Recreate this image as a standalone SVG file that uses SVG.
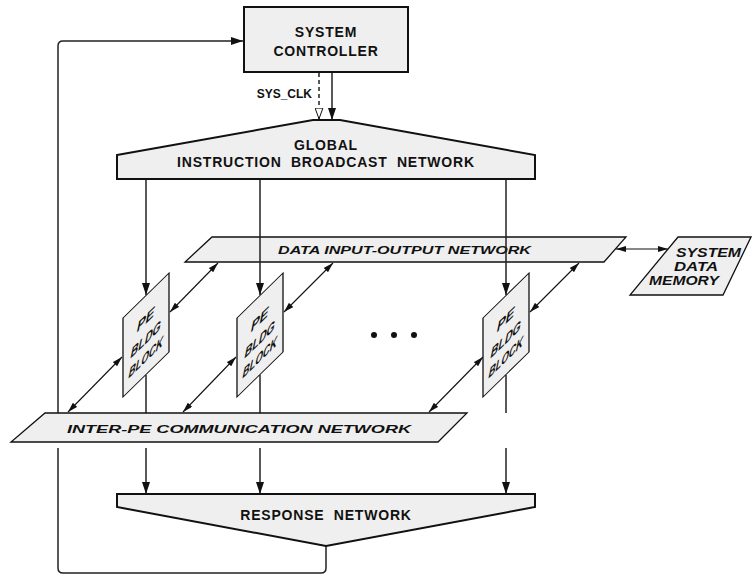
<svg xmlns="http://www.w3.org/2000/svg" width="752" height="577" viewBox="0 0 752 577">
<style>
.box{fill:#efefef;stroke:#111;stroke-width:2;stroke-linejoin:miter}
.thin{fill:#efefef;stroke:#111;stroke-width:1.3}
.t{font-family:"Liberation Sans",Arial,sans-serif;font-weight:bold;fill:#111}
.big{font-size:14px;letter-spacing:0.8px;white-space:pre}
.it{font-style:italic}
.ln{fill:none;stroke:#222;stroke-width:1.5}
.dg{fill:none;stroke:#111;stroke-width:1.1}
.pt{font-size:13px}
</style>
<defs>
<marker id="a" viewBox="0 0 12 8" refX="12" refY="4" markerWidth="12" markerHeight="8" markerUnits="userSpaceOnUse" orient="auto-start-reverse">
<path d="M0,0 L12,4 L0,8 z" fill="#111"/>
</marker>
<marker id="d" viewBox="0 0 10 6" refX="10" refY="3" markerWidth="10" markerHeight="6" markerUnits="userSpaceOnUse" orient="auto-start-reverse">
<path d="M0,0 L10,3 L0,6 z" fill="#111"/>
</marker>
<marker id="h" viewBox="0 0 12 9" refX="11.5" refY="4.5" markerWidth="12" markerHeight="9" markerUnits="userSpaceOnUse" orient="auto">
<path d="M0.6,0.6 L11.4,4.5 L0.6,8.4 z" fill="#fff" stroke="#111" stroke-width="1"/>
</marker>
</defs>

<g id="connectors">
<path class="ln" d="M58,413 V46 Q58,41 63,41 H243" marker-end="url(#a)"/>
<path class="ln" d="M326,546 V568 Q326,573 321,573 H63 Q58,573 58,568 V448"/>
<path class="ln" d="M319,73 V119" stroke-dasharray="4,3" marker-end="url(#h)"/>
<path class="ln" d="M332,73 V120" marker-end="url(#a)"/>
<path class="ln" d="M146,180 V295" marker-end="url(#a)"/>
<path class="ln" d="M146,375 V413"/>
<path class="ln" d="M146,448 V494" marker-end="url(#a)"/>
<path class="ln" d="M260,375 V413"/>
<path class="ln" d="M260,448 V494" marker-end="url(#a)"/>
<path class="ln" d="M506,375 V413"/>
<path class="ln" d="M506,448 V494" marker-end="url(#a)"/>
<path class="dg" d="M218,263 L170,312" marker-start="url(#d)" marker-end="url(#d)"/>
<path class="dg" d="M333,263 L284,312" marker-start="url(#d)" marker-end="url(#d)"/>
<path class="dg" d="M579,263 L530,312" marker-start="url(#d)" marker-end="url(#d)"/>
<path class="dg" d="M122,357 L68,412" marker-start="url(#d)" marker-end="url(#d)"/>
<path class="dg" d="M236,357 L183,412" marker-start="url(#d)" marker-end="url(#d)"/>
<path class="dg" d="M483,357 L429,412" marker-start="url(#d)" marker-end="url(#d)"/>
<path class="dg" d="M616,249 H668" marker-start="url(#d)" marker-end="url(#d)"/>
</g>

<g id="data-io-network">
<polygon class="thin" points="212,237 626,237 604,262 185,262"/>
<text class="t it" x="404.5" y="254" font-size="10.5" text-anchor="middle" textLength="253" lengthAdjust="spacingAndGlyphs">DATA INPUT-OUTPUT NETWORK</text>
</g>

<g id="over-lines">
<path class="ln" d="M260,180 V295" marker-end="url(#a)"/>
<path class="ln" d="M506,180 V295" marker-end="url(#a)"/>
</g>

<g id="system-controller">
<rect class="box" x="244" y="7" width="164" height="65"/>
<text class="t big" x="326" y="37" text-anchor="middle">SYSTEM</text>
<text class="t big" x="326" y="56" text-anchor="middle">CONTROLLER</text>
</g>

<g id="sys-clk-label">
<text class="t" x="312" y="98" font-size="12" text-anchor="end">SYS_CLK</text>
</g>

<g id="global-network">
<polygon class="box" points="117,155 313,120 340,120 535,155 535,179 117,179"/>
<text class="t big" x="326" y="150" text-anchor="middle">GLOBAL</text>
<text class="t big" x="326" y="167" text-anchor="middle" xml:space="preserve">INSTRUCTION  BROADCAST  NETWORK</text>
</g>

<g id="system-data-memory">
<polygon class="thin" points="678,237 751,237 723,295 630,295"/>
<text class="t it" x="708.5" y="257" font-size="12" text-anchor="middle" textLength="65" lengthAdjust="spacingAndGlyphs">SYSTEM</text>
<text class="t it" x="696" y="271" font-size="12" text-anchor="middle" textLength="44" lengthAdjust="spacingAndGlyphs">DATA</text>
<text class="t it" x="684" y="285" font-size="12" text-anchor="middle" textLength="70" lengthAdjust="spacingAndGlyphs">MEMORY</text>
</g>

<g id="pe1" transform="translate(123,318) skewY(-44.4)">
<rect class="thin" x="0" y="0" width="46" height="79"/>
<g transform="skewX(-15)">
<text class="t pt" x="29.3" y="28" text-anchor="middle">PE</text>
<text class="t pt" x="34.7" y="48" text-anchor="middle" textLength="30" lengthAdjust="spacingAndGlyphs">BLDG</text>
<text class="t pt" x="39.5" y="66" text-anchor="middle" textLength="34" lengthAdjust="spacingAndGlyphs">BLOCK</text>
</g>
</g>
<g id="pe2" transform="translate(237,318) skewY(-44.4)">
<rect class="thin" x="0" y="0" width="46" height="79"/>
<g transform="skewX(-15)">
<text class="t pt" x="29.3" y="28" text-anchor="middle">PE</text>
<text class="t pt" x="34.7" y="48" text-anchor="middle" textLength="30" lengthAdjust="spacingAndGlyphs">BLDG</text>
<text class="t pt" x="39.5" y="66" text-anchor="middle" textLength="34" lengthAdjust="spacingAndGlyphs">BLOCK</text>
</g>
</g>
<g id="pe3" transform="translate(483,318) skewY(-44.4)">
<rect class="thin" x="0" y="0" width="46" height="79"/>
<g transform="skewX(-15)">
<text class="t pt" x="29.3" y="28" text-anchor="middle">PE</text>
<text class="t pt" x="34.7" y="48" text-anchor="middle" textLength="30" lengthAdjust="spacingAndGlyphs">BLDG</text>
<text class="t pt" x="39.5" y="66" text-anchor="middle" textLength="34" lengthAdjust="spacingAndGlyphs">BLOCK</text>
</g>
</g>

<g id="ellipsis">
<circle cx="374" cy="335" r="3" fill="#111"/>
<circle cx="394" cy="335" r="3" fill="#111"/>
<circle cx="414" cy="335" r="3" fill="#111"/>
</g>

<g id="inter-pe-network">
<polygon class="thin" points="45,413 467,413 438,442 11,442"/>
<text class="t it" x="239" y="433" font-size="11.5" text-anchor="middle" textLength="344" lengthAdjust="spacingAndGlyphs">INTER-PE COMMUNICATION NETWORK</text>
</g>

<g id="response-network">
<polygon class="box" points="117,494 535,494 535,507 326,546 117,507"/>
<text class="t big" x="326" y="520" text-anchor="middle" xml:space="preserve">RESPONSE  NETWORK</text>
</g>
</svg>
